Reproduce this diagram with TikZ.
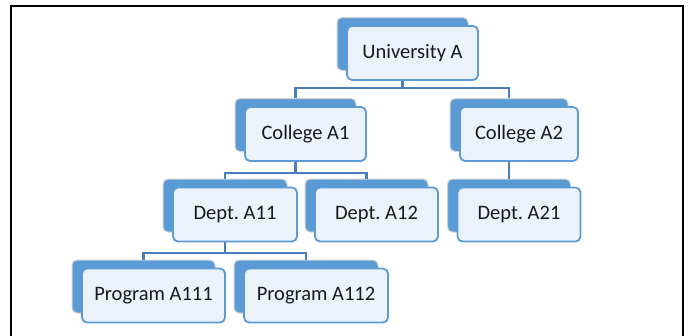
\documentclass[tikz,border=0pt]{standalone}
\usepackage{fontspec}
\setmainfont{Carlito}
\begin{document}
\frenchspacing
\begin{tikzpicture}[x = 1pt, y = -1pt,
  backbox/.style = {fill = boxblue, draw = gray!35, line width = 1pt, rounded corners = 5pt, minimum height = 53pt, inner sep = 0pt},
  frontbox/.style = {fill = boxface, draw = boxblue, line width = 1.8pt, rounded corners = 5pt, minimum height = 54pt, inner sep = 0pt, text = black!90, font = \fontsize{20.5}{24}\selectfont},
  orgline/.style = {draw = lineblue, line width = 2.6pt}]
\useasboundingbox (0,0) rectangle (688,335);
\definecolor{boxblue}{RGB}{91,155,213}
\definecolor{boxface}{RGB}{236,242,250}
\definecolor{lineblue}{RGB}{74,126,187}
\draw[line width = 2pt, color = black] (11,336) -- (11,6) -- (683,6) -- (683,336);
\coordinate (bus0) at (0,88);
\coordinate (bus1) at (0,173);
\coordinate (bus2) at (0,253);
\foreach \name/\x/\y/\w in {univ/402.5/44/131, colA1/295.5/125/121, colA2/509/125/118, deptA11/225/205.5/124, deptA12/366.5/205.5/123, deptA21/509/205.5/123, progA111/143.5/286.5/143, progA112/306/286.5/144} \node[backbox, minimum width = \w pt] (\name-b) at (\x,\y) {};
\draw[orgline] (univ-b.south) -- (univ-b.south |- bus0) -| (colA1-b.north);
\draw[orgline] (univ-b.south |- bus0) -| (colA2-b.north);
\draw[orgline] (colA1-b.south) -- (colA1-b.south |- bus1) -| (deptA11-b.north);
\draw[orgline] (colA1-b.south |- bus1) -| (deptA12-b.north);
\draw[orgline] (colA2-b.south) -- (deptA21-b.north);
\draw[orgline] (deptA11-b.south) -- (deptA11-b.south |- bus2) -| (progA111-b.north);
\draw[orgline] (deptA11-b.south |- bus2) -| (progA112-b.north);
\foreach \name/\w/\txt in {univ/131/University A, colA1/121/College A1, colA2/118/College A2, deptA11/124/Dept. A11, deptA12/123/Dept. A12, deptA21/123/Dept. A21, progA111/143/Program A111, progA112/144/Program A112} \node[frontbox, minimum width = \w pt] (\name) at ([shift = {(10,9)}]\name-b.center) {\txt};
\end{tikzpicture}
\end{document}
